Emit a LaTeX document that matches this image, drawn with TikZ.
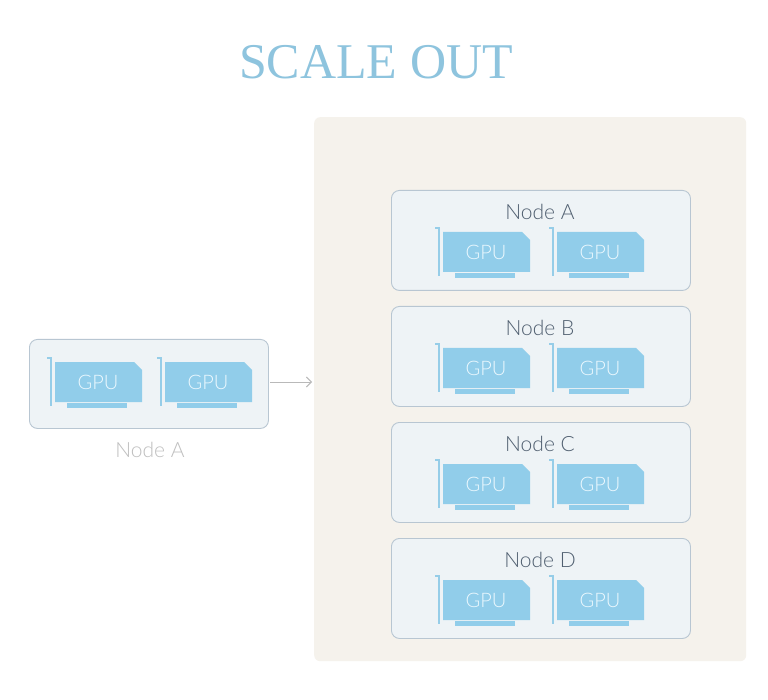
\documentclass[tikz,border=0pt]{standalone}
\usepackage{fontspec}
\usetikzlibrary{arrows.meta}
\setmainfont{Lato Light}
\newfontfamily\titlefont{Liberation Serif}
\begin{document}
\begin{tikzpicture}[x=1pt,y=-1pt,
  nodebox/.style={draw={rgb,255:red,184;green,198;blue,210}, fill={rgb,255:red,238;green,243;blue,246}, rounded corners=8pt, line width=0.9pt},
  gputext/.style={text=white!92!cyan, font=\fontsize{20}{24}\selectfont},
  ntitle/.style={text={rgb,255:red,80;green,95;blue,112}, font=\fontsize{21}{25}\selectfont},
  gpu/.pic={
    \fill[fill={rgb,255:red,145;green,205;blue,234}] (-41,-20) -- (38,-20) -- (46,-12) -- (46,20) -- (-41,20) -- cycle;
    \fill[fill={rgb,255:red,145;green,205;blue,234}] (-29,21) rectangle (31,26);
    \draw[draw={rgb,255:red,150;green,205;blue,232}, line width=1.6pt] (-49,-24) -- (-45,-24) -- (-45,24);
    \node[gputext] (-label) at (2,0) {GPU};
  }]
\useasboundingbox (0,0) rectangle (768,700);
\fill[white] (0,0) rectangle (768,700);
\node[text={rgb,255:red,142;green,196;blue,222}, font=\titlefont\fontsize{50}{56}\selectfont] (title) at (376,62) {SCALE OUT};
\node[fill={rgb,255:red,245;green,242;blue,236}, rounded corners=6pt, minimum width=432pt, minimum height=544pt, inner sep=0, anchor=north west] (panel) at (314,117) {};
% left
\node[nodebox, minimum width=239pt, minimum height=89pt, inner sep=0, anchor=north west] (left) at (29,339) {};
\pic (l1) at (96,382) {gpu};
\pic (l2) at (206,382) {gpu};
\node[text=black!25, font=\fontsize{21}{25}\selectfont] (llabel) at (150,450) {Node A};
\coordinate (arrowstart) at (270,382);
\coordinate (arrowend) at (312,382);
\draw[-{Straight Barb[length=5pt,width=10pt]}, gray!55, line width=0.9pt] (arrowstart) -- (arrowend);
% right
\foreach \n/\y in {A/190,B/306,C/422,D/538}{
  \node[nodebox, minimum width=299pt, minimum height=100pt, inner sep=0, anchor=north west] (box\n) at (391,\y) {};
  \node[ntitle] (t\n) at (540,\y+22) {Node \n};
  \pic (g\n1) at (484,\y+62) {gpu};
  \pic (g\n2) at (598,\y+62) {gpu};
}
\end{tikzpicture}
\end{document}
